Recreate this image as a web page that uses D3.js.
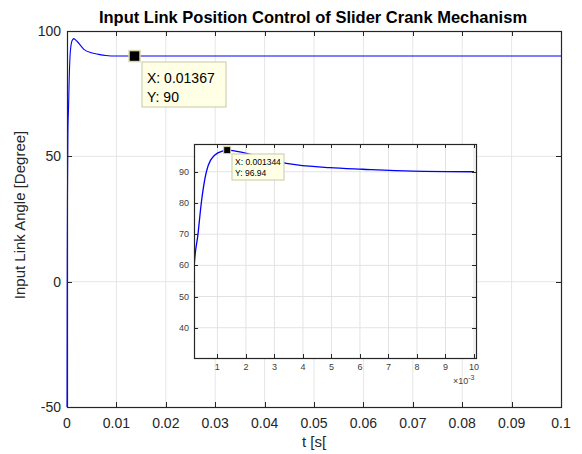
<!DOCTYPE html>
<html>
<head>
<meta charset="utf-8">
<script src="https://cdn.jsdelivr.net/npm/d3@7"></script>
<style>
  body { margin: 0; background: #fff; }
  svg { font-family: "Liberation Sans", Arial, sans-serif; }
</style>
</head>
<body>
<svg width="582" height="454"></svg>
<script>
// time [s] and input link angle [deg]
var timeS = [0, 0.00005, 0.0001, 0.00018, 0.00032, 0.00044, 0.000615, 0.0009, 0.0012, 0.001344,
  0.00202, 0.00342, 0.00494, 0.0061, 0.00785, 0.01, 0.02, 0.05, 0.1];
var angleDeg = [-50, 10, 35, 59, 70, 80.3, 90, 95.3, 96.7, 96.94,
  95.9, 92.7, 91.3, 90.8, 90.2, 90, 90, 90, 90];

var xTicks = [0, 0.01, 0.02, 0.03, 0.04, 0.05, 0.06, 0.07, 0.08, 0.09, 0.1];
var yTicks = [-50, 0, 50, 100];
var insetXTicks = [0.001, 0.002, 0.003, 0.004, 0.005, 0.006, 0.007, 0.008, 0.009, 0.01];
var insetYTicks = [40, 50, 60, 70, 80, 90];

var mainTip = { x: 0.01367, y: 90, label: ["X: 0.01367", "Y: 90"] };
var insetTip = { x: 0.001344, y: 96.94, label: ["X: 0.001344", "Y: 96.94"] };

var data = timeS.map(function(t, i) { return { t: t, a: angleDeg[i] }; });

var svg = d3.select("svg");
var ink = "#262626";

// ---------- main axes ----------
var x = d3.scaleLinear().domain([0, 0.1]).range([67, 561]);
var y = d3.scaleLinear().domain([-50, 100]).range([407, 31]);

var g = svg.append("g");

g.selectAll("line.vgrid").data(xTicks.slice(1, -1)).enter().append("line")
    .attr("x1", function(d) { return x(d); }).attr("x2", function(d) { return x(d); })
    .attr("y1", y(-50)).attr("y2", y(100))
    .attr("stroke", "#e6e6e6");
g.selectAll("line.hgrid").data(yTicks.slice(1, -1)).enter().append("line")
    .attr("x1", x(0)).attr("x2", x(0.1))
    .attr("y1", function(d) { return y(d); }).attr("y2", function(d) { return y(d); })
    .attr("stroke", "#e6e6e6");

var line = d3.line().x(function(d) { return x(d.t); }).y(function(d) { return y(d.a); })
    .curve(d3.curveMonotoneX);

g.append("path").datum(data)
    .attr("d", line)
    .attr("fill", "none")
    .attr("stroke", "#0000ff")
    .attr("stroke-width", 1.1);

function box(sel, xs, ys, xt, yt, tl) {
  var x0 = xs.range()[0], x1 = xs.range()[1], y0 = ys.range()[1], y1 = ys.range()[0];
  sel.selectAll(null).data(xt).enter().append("path")
      .attr("d", function(d) {
        var px = Math.round(xs(d)) + 0.5;
        return "M" + px + "," + y1 + "v" + (-tl) + "M" + px + "," + y0 + "v" + tl;
      })
      .attr("stroke", ink);
  sel.selectAll(null).data(yt).enter().append("path")
      .attr("d", function(d) {
        var py = Math.round(ys(d)) + 0.5;
        return "M" + x0 + "," + py + "h" + tl + "M" + x1 + "," + py + "h" + (-tl);
      })
      .attr("stroke", ink);
  sel.append("rect")
      .attr("x", x0 + 0.5).attr("y", y0 + 0.5)
      .attr("width", x1 - x0).attr("height", y1 - y0)
      .attr("fill", "none").attr("stroke", ink).attr("stroke-width", 1.2);
}

box(g, x, y, xTicks, yTicks, 5);

g.selectAll("text.xt").data(xTicks).enter().append("text")
    .attr("x", function(d) { return x(d); }).attr("y", 428)
    .attr("text-anchor", "middle").attr("font-size", 14).attr("fill", ink)
    .text(function(d) { return d3.format("")(+d.toFixed(2)); });
g.selectAll("text.yt").data(yTicks).enter().append("text")
    .attr("x", 61).attr("y", function(d) { return y(d) + 5; })
    .attr("text-anchor", "end").attr("font-size", 14).attr("fill", ink)
    .text(function(d) { return d; });

svg.append("text").attr("x", 313).attr("y", 23)
    .attr("text-anchor", "middle").attr("font-size", 16.5).attr("font-weight", "bold")
    .attr("fill", "#000").text("Input Link Position Control of Slider Crank Mechanism");
svg.append("text").attr("x", 314).attr("y", 447)
    .attr("text-anchor", "middle").attr("font-size", 15).attr("fill", ink).text("t [s[");
svg.append("text").attr("transform", "translate(25,215) rotate(-90)")
    .attr("text-anchor", "middle").attr("font-size", 15).attr("fill", ink)
    .text("Input Link Angle [Degree]");

// main data tip
var mx = x(mainTip.x), my = y(mainTip.y);
g.append("rect").attr("x", 142).attr("y", 62).attr("width", 84).attr("height", 45)
    .attr("fill", "#ffffe6").attr("stroke", "#c8c8a8");
g.selectAll("text.tip").data(mainTip.label).enter().append("text")
    .attr("x", 147).attr("y", function(d, i) { return 83 + i * 19; })
    .attr("font-size", 14).attr("fill", "#000").text(function(d) { return d; });
g.append("rect").attr("x", mx - 5.5).attr("y", my - 5.5).attr("width", 11).attr("height", 11)
    .attr("fill", "#000").attr("stroke", "#d8d8b0").attr("stroke-width", 1.5);

// ---------- inset axes ----------
var ix = d3.scaleLinear().domain([0.00018, 0.01007]).range([194, 476]);
var iy = d3.scaleLinear().domain([30.3, 98.9]).range([358, 144]);
var ig = svg.append("g");

ig.append("rect").attr("x", 194).attr("y", 144).attr("width", 282).attr("height", 214).attr("fill", "#fff");
ig.append("clipPath").attr("id", "iclip").append("rect")
    .attr("x", 194).attr("y", 144).attr("width", 282).attr("height", 214);

ig.selectAll(null).data(insetXTicks).enter().append("line")
    .attr("x1", function(d) { return ix(d); }).attr("x2", function(d) { return ix(d); })
    .attr("y1", 144).attr("y2", 358).attr("stroke", "#e3e3e3");
ig.selectAll(null).data(insetYTicks).enter().append("line")
    .attr("x1", 194).attr("x2", 476)
    .attr("y1", function(d) { return iy(d); }).attr("y2", function(d) { return iy(d); })
    .attr("stroke", "#e3e3e3");

var iline = d3.line().x(function(d) { return ix(d.t); }).y(function(d) { return iy(d.a); })
    .curve(d3.curveMonotoneX);
ig.append("path").datum(data.filter(function(d) { return d.t <= 0.011; }))
    .attr("d", iline).attr("clip-path", "url(#iclip)")
    .attr("fill", "none").attr("stroke", "#0000ff").attr("stroke-width", 1.3);

box(ig, ix, iy, insetXTicks, insetYTicks, 4);

ig.selectAll(null).data(insetXTicks).enter().append("text")
    .attr("x", function(d) { return ix(d); }).attr("y", 370)
    .attr("text-anchor", "middle").attr("font-size", 9).attr("fill", "#404040")
    .text(function(d) { return Math.round(d * 1000); });
ig.selectAll(null).data(insetYTicks).enter().append("text")
    .attr("x", 189).attr("y", function(d) { return iy(d) + 3; })
    .attr("text-anchor", "end").attr("font-size", 9).attr("fill", "#404040")
    .text(function(d) { return d; });
var mult = ig.append("text").attr("x", 453).attr("y", 384).attr("font-size", 9).attr("fill", "#404040");
mult.append("tspan").text("\u00d710");
mult.append("tspan").attr("dy", -4).attr("font-size", 7).text("-3");

// inset data tip
var ipx = ix(insetTip.x), ipy = iy(insetTip.y);
ig.append("rect").attr("x", 232).attr("y", 154).attr("width", 52).attr("height", 26)
    .attr("fill", "#ffffe6").attr("stroke", "#c8c8a8");
ig.selectAll(null).data(insetTip.label).enter().append("text")
    .attr("x", 235).attr("y", function(d, i) { return 165 + i * 10.5; })
    .attr("font-size", 8.5).attr("fill", "#000").text(function(d) { return d; });
ig.append("rect").attr("x", ipx - 3.5).attr("y", ipy - 3.5).attr("width", 7).attr("height", 7)
    .attr("fill", "#000").attr("stroke", "#d8d8b0").attr("stroke-width", 1);
</script>
</body>
</html>
